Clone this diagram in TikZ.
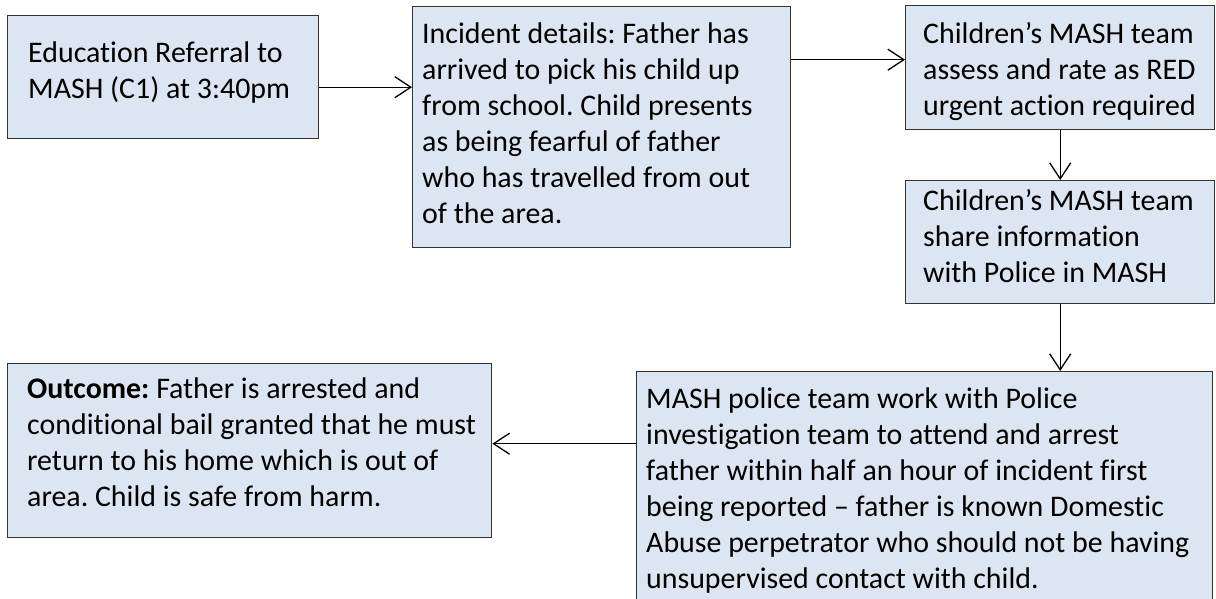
\documentclass[tikz,border=0pt]{standalone}
\usepackage{fontspec}
\setmainfont{Carlito}[Ligatures={NoCommon}]
\usetikzlibrary{arrows.meta}
\definecolor{boxfill}{HTML}{DCE6F2}
\definecolor{boxline}{HTML}{333333}
\frenchspacing
\newcommand{\boxtext}[1]{\parbox[t]{600pt}{\raggedright\frenchspacing\fontsize{29.9}{36}\selectfont #1}}
\begin{document}
\begin{tikzpicture}[x=1pt,y=-1pt,
  box/.style={draw=boxline, fill=boxfill, line width=1.4pt, inner sep=0pt, anchor=north west},
  txt/.style={inner sep=0pt, anchor=base west},
  arr/.style={line width=1.3pt, draw=black, -{Straight Barb[length=16pt,width=21pt,line width=1.3pt]}}]
\useasboundingbox (0,0) rectangle (1216,598);
\clip (0,0) rectangle (1216,598);
\fill[white] (0,0) rectangle (1216,598);
% boxes
\node[box, minimum width=311pt, minimum height=123pt] (b1) at (7,15) {};
\node[box, minimum width=378pt, minimum height=241pt] (b2) at (412,6) {};
\node[box, minimum width=309pt, minimum height=124pt] (b3) at (905,5) {};
\node[box, minimum width=309pt, minimum height=123pt] (b4) at (905,180) {};
\node[box, minimum width=576pt, minimum height=260pt] (b5) at (636,371) {};
\node[box, minimum width=484pt, minimum height=174pt] (b6) at (7,363) {};
% texts
\node[txt] (t1) at (28,62) {\boxtext{Education Referral to\\MASH (C1) at 3:40pm}};
\node[txt] (t2) at (422,43) {\boxtext{Incident details: Father has\\arrived to pick his child up\\from school. Child presents\\as being fearful of father\\who has travelled from out\\of the area.}};
\node[txt] (t3) at (923,43) {\boxtext{Children’s MASH team\\assess and rate as RED\\urgent action required}};
\node[txt] (t4) at (923,210) {\boxtext{Children’s MASH team\\share information\\with Police in MASH}};
\node[txt] (t5) at (646,408) {\boxtext{MASH police team work with Police\\investigation team to attend and arrest\\father within half an hour of incident first\\being reported – father is known Domestic\\Abuse perpetrator who should not be having\\unsupervised contact with child.}};
\node[txt] (t6) at (27,398) {\boxtext{\textbf{Outcome:} Father is arrested and\\conditional bail granted that he must\\return to his home which is out of\\area. Child is safe from harm.}};
% connectors
\draw[arr] ([yshift=-10pt]b1.east) -- ([yshift=-10pt]b1.east -| b2.west);
\draw[arr] ([yshift=8pt]b3.west -| b2.east) -- ([yshift=8pt]b3.west);
\draw[arr] (b3.south) -- (b4.north);
\draw[arr] (b4.south) -- (b4.south |- b5.north);
\draw[arr] ([yshift=7pt]b6.east -| b5.west) -- ([yshift=7pt]b6.east);
\end{tikzpicture}
\end{document}
